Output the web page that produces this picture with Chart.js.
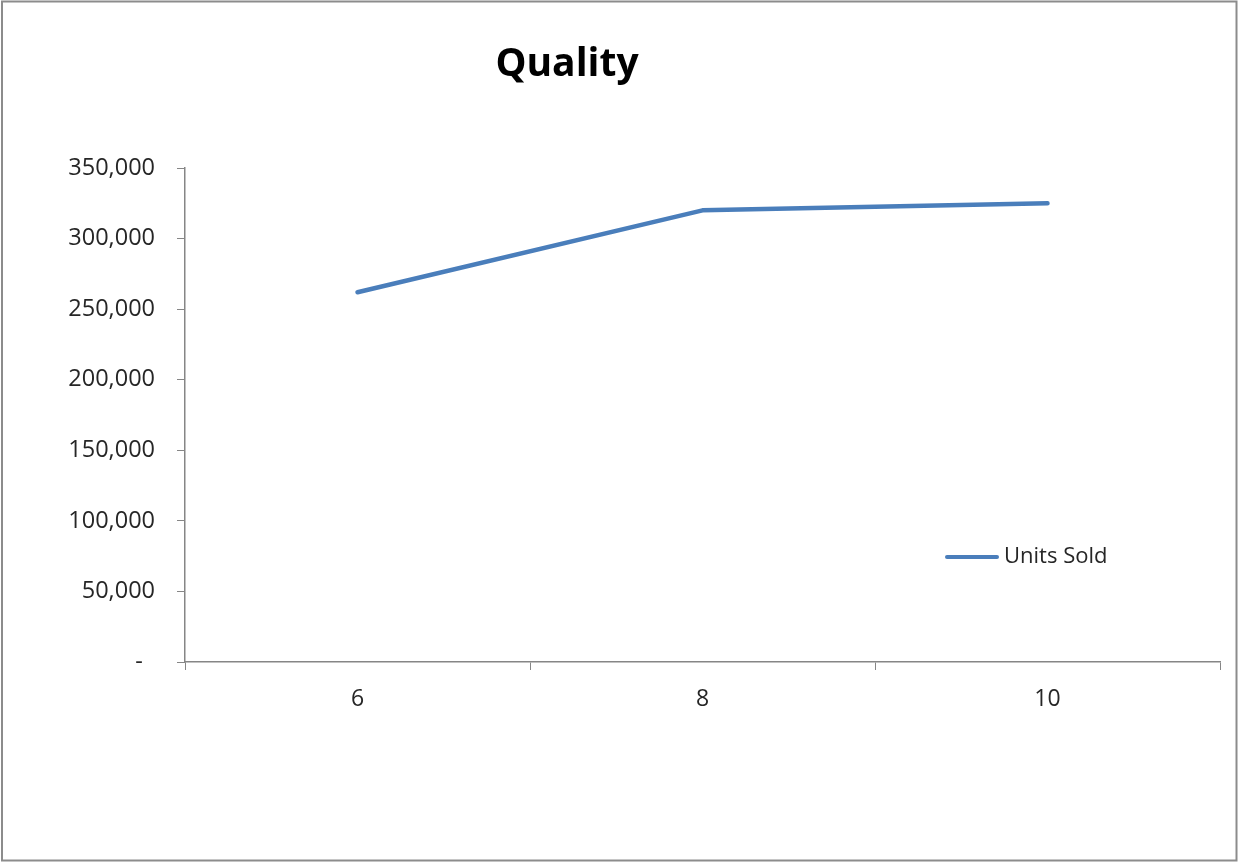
<!DOCTYPE html>
<html>
<head>
<meta charset="utf-8">
<script src="https://cdn.jsdelivr.net/npm/chart.js@4/dist/chart.umd.min.js"></script>
<style>
  body { margin: 0; background: #fff; }
  canvas { display: block; }
</style>
</head>
<body>
<canvas id="myChart" width="1239" height="862"></canvas>
<script>
var categories = ['6', '8', '10'];
var unitsSold = [262000, 320000, 325000];
var yTicks = { min: 0, max: 350000, step: 50000 };

var axisGray = '#868686';
var textGray = '#262626';
var lineBlue = '#4a7ebb';

// outer frame, title and legend drawn straight onto the canvas
var decorations = {
  id: 'decorations',
  beforeDraw: function(chart) {
    var c = chart.ctx;
    c.save();
    c.fillStyle = '#fff';
    c.fillRect(0, 0, chart.width, chart.height);
    c.strokeStyle = '#8c8c8c';
    c.lineWidth = 2;
    c.strokeRect(2, 1.5, chart.width - 4.5, chart.height - 3);
    c.restore();
  },
  afterDraw: function(chart) {
    var c = chart.ctx;
    var ds = chart.data.datasets[0];
    c.save();
    c.fillStyle = '#000';
    c.font = 'bold 39px "Open Sans"';
    c.textAlign = 'center';
    c.textBaseline = 'alphabetic';
    c.fillText('Quality', 567, 76);

    c.strokeStyle = ds.borderColor;
    c.lineWidth = 4;
    c.lineCap = 'round';
    c.beginPath();
    c.moveTo(947, 557);
    c.lineTo(997, 557);
    c.stroke();
    c.fillStyle = textGray;
    c.font = '22px "Open Sans"';
    c.textAlign = 'left';
    c.textBaseline = 'middle';
    c.fillText(ds.label, 1004, 557);
    c.restore();
  }
};

var ctx = document.getElementById('myChart').getContext('2d');
var myChart = new Chart(ctx, {
  type: 'line',
  data: {
    labels: categories,
    datasets: [{
      label: 'Units Sold',
      data: unitsSold,
      borderColor: lineBlue,
      borderWidth: 4.5,
      borderJoinStyle: 'round',
      borderCapStyle: 'round',
      pointRadius: 0,
      fill: false,
      tension: 0
    }]
  },
  options: {
    responsive: false,
    animation: false,
    layout: { padding: { left: 0, right: 19, top: 168, bottom: 0 } },
    plugins: {
      legend: { display: false },
      title: { display: false },
      tooltip: { enabled: false }
    },
    scales: {
      x: {
        offset: true,
        afterFit: function(scale) { scale.height = 200; },
        grid: {
          offset: true,
          drawOnChartArea: false,
          drawTicks: true,
          tickLength: 8,
          color: axisGray
        },
        border: { color: axisGray, width: 1.5 },
        ticks: {
          color: textGray,
          padding: 16,
          font: { family: 'Open Sans', size: 23 }
        }
      },
      y: {
        min: yTicks.min,
        max: yTicks.max,
        afterFit: function(scale) { scale.width = 185; },
        grid: {
          drawOnChartArea: false,
          drawTicks: true,
          tickLength: 8,
          color: axisGray
        },
        border: { color: axisGray, width: 1.5 },
        ticks: {
          stepSize: yTicks.step,
          color: textGray,
          padding: 22,
          font: { family: 'Open Sans', size: 23.5 },
          callback: function(v) {
            return v === 0 ? '-  ' : v.toLocaleString('en-US');
          }
        }
      }
    }
  },
  plugins: [decorations]
});
</script>
</body>
</html>
